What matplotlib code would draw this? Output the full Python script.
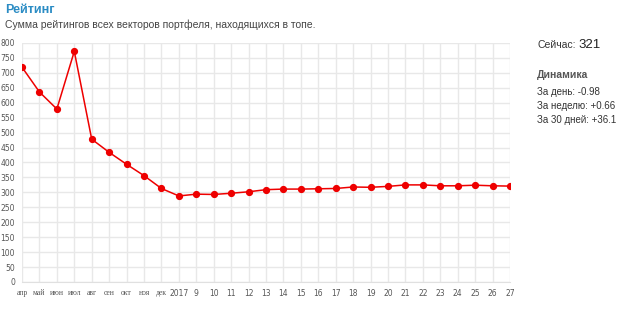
import matplotlib.pyplot as plt
import numpy as np

labels = ['апр', 'май', 'июн', 'июл', 'авг', 'сен', 'окт', 'ноя', 'дек', '2017',
          '9', '10', '11', '12', '13', '14', '15', '16', '17', '18', '19', '20',
          '21', '22', '23', '24', '25', '26', '27']
rating = [719, 636, 579, 772, 478, 434, 394, 356, 313, 288,
          294, 293, 297, 302, 309, 311, 311, 312, 313, 318, 317, 320,
          325, 325, 322, 322, 324, 322, 321]

fig = plt.figure(figsize=(6.2, 3.15), dpi=100)
ax = fig.add_axes([0.0355, 0.1048, 0.787, 0.7587])

x = np.arange(len(labels))
ax.plot(x, rating, color='#ee0000', lw=1.1, marker='o', ms=4.2, zorder=3)

ax.set_xlim(0, len(labels) - 1)
ax.set_ylim(0, 800)
ax.set_yticks(np.arange(0, 801, 50))
ax.set_xticks(x)
ax.set_xticklabels(labels)
ax.grid(True, color='#e8e8e8', lw=1)
ax.set_axisbelow(True)
for s in ax.spines.values():
    s.set_visible(False)
ax.spines['bottom'].set_visible(True)
ax.spines['bottom'].set_color('#e0e0e0')
ax.tick_params(length=0, labelsize=5.5, labelcolor='#555555', pad=5)
for t in ax.get_xticklabels():
    if not t.get_text().isdigit():
        t.set_family('Liberation Serif')
        t.set_fontsize(5.5)

fig.text(5 / 620, 1 - 10 / 315, 'Рейтинг', fontsize=9, fontweight='bold',
         color='#2b8cc4', va='center', family='Liberation Sans')
fig.text(5 / 620, 1 - 25 / 315, 'Сумма рейтингов всех векторов портфеля, находящихся в топе.',
         fontsize=7.5, color='#444444', va='center', family='Liberation Sans')

base_y = 1 - 48 / 315
now = fig.text(537 / 620, base_y, 'Сейчас:', fontsize=7.5, color='#333333',
               va='baseline', family='Liberation Sans')
fig.canvas.draw()
w = now.get_window_extent(fig.canvas.get_renderer()).width
fig.text((537 + w + 3) / 620, base_y, '321', fontsize=9.5, color='#222222',
         va='baseline', family='Liberation Sans')
fig.text(537 / 620, 1 - 75 / 315, 'Динамика', fontsize=7.5, color='#555555',
         va='center', family='Liberation Sans', fontweight='bold')
stats = ['За день: -0.98', 'За неделю: +0.66', 'За 30 дней: +36.1']
for i, s in enumerate(stats):
    fig.text(537 / 620, 1 - (92 + 14 * i) / 315, s, fontsize=7, color='#333333',
             va='center', family='Liberation Sans')

fig.savefig('out.png', dpi=100)
